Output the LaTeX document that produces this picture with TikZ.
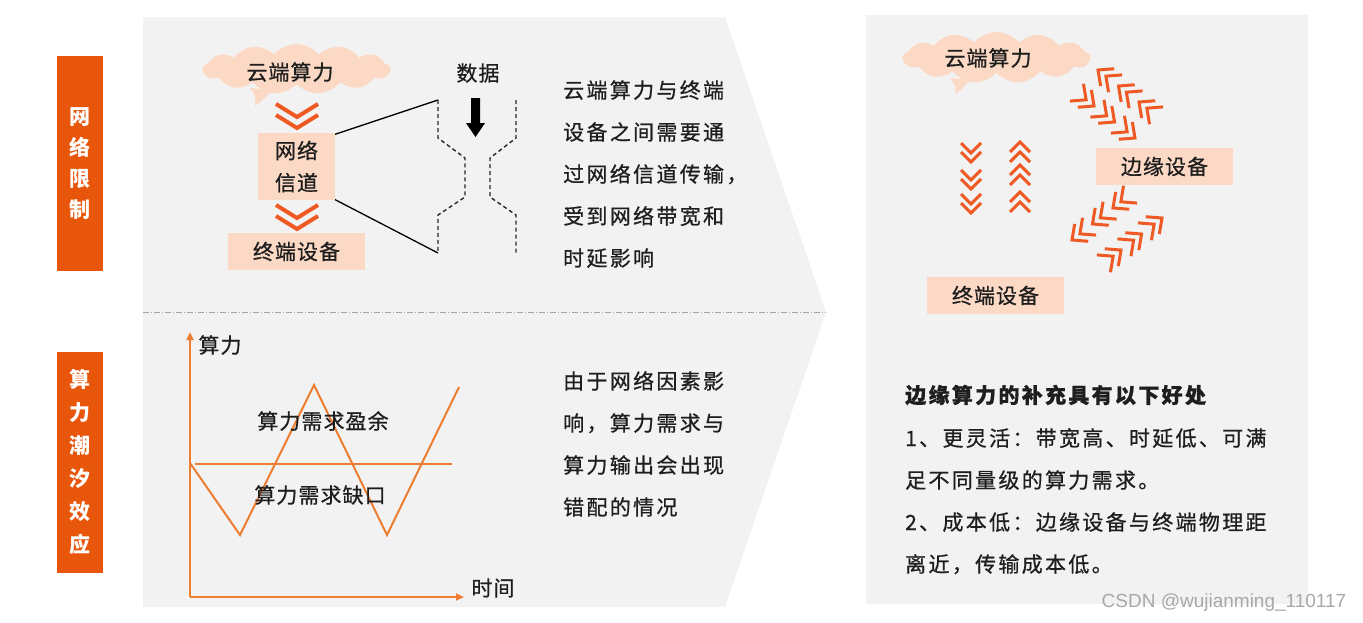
\documentclass[tikz,border=0pt]{standalone}
\usepackage{fontspec}
\usetikzlibrary{shapes.symbols,arrows.meta}
\newfontfamily\cjk{Noto Sans CJK SC}
\newfontfamily\cjks[LetterSpace=11,FakeBold=0.7]{Noto Sans CJK SC}
\newfontfamily\cjkm[LetterSpace=5,FakeBold=0.7]{Noto Sans CJK SC}
\newfontfamily\wmfont{Liberation Sans}
\definecolor{bgg}{HTML}{F2F2F2}
\definecolor{labor}{HTML}{E8560C}
\definecolor{peach}{HTML}{FBD9C4}
\definecolor{chevc}{HTML}{EF5A24}
\definecolor{gor}{HTML}{ED7D31}
\definecolor{txtc}{HTML}{1E1E1E}
\definecolor{wmc}{HTML}{A8A8A8}
\newcommand\mychev[6]{\draw[#1,shift={(#2,#3)},rotate=#4] (-#5,-#6)--(0,0)--(-#5,#6);}
\tikzset{
  txt/.style={anchor=base west, inner sep=0, font=\cjks\fontsize{21}{21}\selectfont, text=txtc},
  ctxt/.style={inner sep=0, font=\cjkm\fontsize{21}{21}\selectfont, text=txtc},
  pbox/.style={fill=peach, inner sep=0, font=\cjkm\fontsize{21}{21}\selectfont, text=txtc},
  labbox/.style={fill=labor, inner sep=0, minimum width=46, text=white, align=center},
  cloudn/.style={cloud, cloud puffs=13, cloud puff arc=100, cloud ignores aspect, fill=peach, inner sep=0, minimum width=187, minimum height=50},
  chevbig/.style={draw=chevc, line width=4pt, line cap=butt, line join=miter},
  chevsm/.style={draw=chevc, line width=3pt, line cap=butt, line join=miter},
  dsh/.style={draw=black!85, line width=1.4pt, dash pattern=on 4pt off 3pt},
  gline/.style={draw=gor, line width=2pt},
}
\begin{document}
\begin{tikzpicture}[x=1pt,y=-1pt]
\useasboundingbox (0,0) rectangle (1363,622);
\fill[white] (0,0) rectangle (1363,622);
% panels
\fill[bgg] (143,17) -- (725,17) -- (826,312) -- (725,607) -- (143,607) -- cycle;
\fill[bgg] (866,15) rectangle (1308,604);
\draw[gray!70, line width=1pt, dash pattern=on 6pt off 2pt on 1pt off 2pt] (143,312) -- (826,312);
% side labels
\node[labbox, minimum height=215, font=\cjk\bfseries\fontsize{21}{31}\selectfont] (lab1) at (80,163.5) {网\\络\\限\\制};
\node[labbox, minimum height=221, font=\cjk\bfseries\fontsize{21}{33}\selectfont] (lab2) at (80,462.5) {算\\力\\潮\\汐\\效\\应};
% ---- top-left
\node[cloudn] (cl1) at (296.5,69) {};
\fill[peach] (250,88) .. controls (256,96) .. (255,106) .. controls (262,101) .. (272,90) -- cycle;
\node[ctxt] (cl1t) at (290,72) {云端算力};
\mychev{chevbig}{297}{117}{-90}{13}{21}
\mychev{chevbig}{297}{128}{-90}{13}{21}
\coordinate (fl1) at (438,100);
\coordinate (fl2) at (438,253);
\coordinate (fr1) at (516,100);
\coordinate (fr2) at (516,253);
\draw[black, line width=1.3pt] (330,136) -- (fl1);
\draw[black, line width=1.3pt] (330,197) -- (fl2);
\node[pbox, minimum width=77, minimum height=67, align=center, font=\cjkm\fontsize{21}{32}\selectfont] (net) at (296.5,166.5) {网络\\信道};
\mychev{chevbig}{297}{218}{-90}{13}{21}
\mychev{chevbig}{297}{229}{-90}{13}{21}
\node[pbox, minimum width=137, minimum height=37] (term) at (296.5,251.5) {终端设备};
\draw[dsh] (fl1) -- (438,138) -- (465,158) -- (465,197) -- (438,215) -- (fl2);
\draw[dsh] (fr1) -- (516,138) -- (490,158) -- (490,197) -- (516,215) -- (fr2);
\node[ctxt] (data) at (478,73) {数据};
\fill[black] (471,98) -- (480,98) -- (480,123) -- (485,123) -- (475.5,137) -- (466,123) -- (471,123) -- cycle;
\node[txt] (a1) at (563,98) {云端算力与终端};
\node[txt] (a2) at (563,140) {设备之间需要通};
\node[txt] (a3) at (563,182) {过网络信道传输，};
\node[txt] (a4) at (563,224) {受到网络带宽和};
\node[txt] (a5) at (563,266) {时延影响};
% ---- bottom-left graph
\coordinate (O) at (190,597);
\coordinate (ytop) at (190,332);
\coordinate (xend) at (464,597);
\draw[gline, -{Triangle[length=8pt,width=7pt]}] (O) -- (ytop);
\draw[gline, -{Triangle[length=8pt,width=7pt]}] (O) -- (xend);
\draw[gor, line width=2.5pt] (195,464) -- (452,464);
\draw[gline, line join=miter] (190,463) -- (240,535) -- (314,385) -- (387,535) -- (459,387);
\node[ctxt] (yl) at (220,345) {算力};
\node[ctxt] (xl) at (493,588) {时间};
\node[ctxt] (g1) at (323,421) {算力需求盈余};
\node[ctxt] (g2) at (320,495) {算力需求缺口};
\node[txt] (b1) at (563,389) {由于网络因素影};
\node[txt] (b2) at (563,431) {响，算力需求与};
\node[txt] (b3) at (563,473) {算力输出会出现};
\node[txt] (b4) at (563,515) {错配的情况};
% ---- right panel
\node[cloudn, minimum height=51] (cl2) at (996.5,57.5) {};
\fill[peach] (950,78) .. controls (956,86) .. (955,94) .. controls (962,89) .. (970,80) -- cycle;
\node[ctxt] (cl2t) at (988,58) {云端算力};
\node[pbox, minimum width=137, minimum height=37] (edge) at (1164.5,166.5) {边缘设备};
\node[pbox, minimum width=137, minimum height=37] (term2) at (995.5,295.5) {终端设备};
% vertical chevrons
\foreach \t in {153,162,180,189,204,213} {\mychev{chevsm}{971}{\t}{-90}{10}{10}}
\foreach \t in {142,152,165,175,192,202} {\mychev{chevsm}{1020}{\t}{90}{10}{10}}
% diagonal chevrons
\foreach \s in {0,10,26,36,52,62} {
  \mychev{chevsm}{1098+0.788*\s}{70+0.616*\s}{142}{12}{11}
  \mychev{chevsm}{1135-0.788*\s}{138-0.616*\s}{-38}{12}{11}
  \mychev{chevsm}{1072+0.788*\s}{240-0.616*\s}{-142}{12}{11}
  \mychev{chevsm}{1162-0.788*\s}{218+0.616*\s}{38}{12}{11}
}
\node[txt, font=\cjks\bfseries\fontsize{21}{21}\selectfont] (h) at (905,403) {边缘算力的补充具有以下好处};
\node[txt] (r1) at (905,446) {1、更灵活：带宽高、时延低、可满};
\node[txt] (r2) at (905,488) {足不同量级的算力需求。};
\node[txt] (r3) at (905,530) {2、成本低：边缘设备与终端物理距};
\node[txt] (r4) at (905,572) {离近，传输成本低。};
\node[inner sep=0, font=\wmfont\fontsize{19}{19}\selectfont, text=wmc] (wm) at (1224,603) {CSDN @wujianming\_110117};
\end{tikzpicture}
\end{document}
